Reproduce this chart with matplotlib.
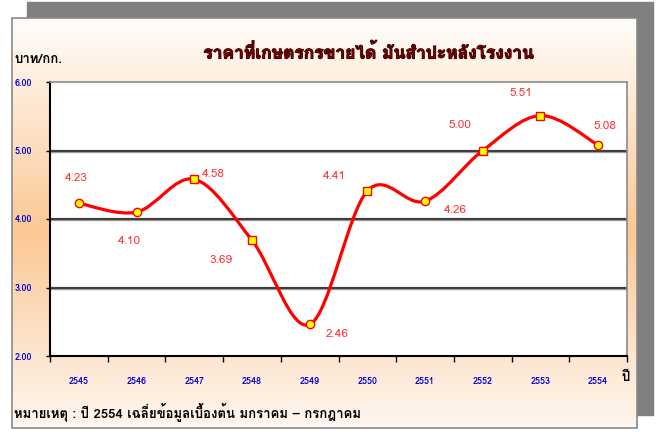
import numpy as np
import matplotlib
matplotlib.use("Agg")
import matplotlib.pyplot as plt
import matplotlib.patheffects as pe
from matplotlib.path import Path
from matplotlib.patches import PathPatch, Rectangle
from matplotlib import font_manager
from matplotlib.ft2font import FT2Font
from matplotlib.colors import LinearSegmentedColormap

# -----------------------------
# Data
# -----------------------------
years = ["2545", "2546", "2547", "2548", "2549", "2550", "2551", "2552", "2553", "2554"]
prices = [4.23, 4.10, 4.58, 3.69, 2.46, 4.41, 4.26, 5.00, 5.51, 5.08]
markers = ["o", "o", "s", "s", "o", "s", "o", "s", "s", "o"]
# label offsets (points) from each marker
label_dx = [-2, -5, 14, -22, 20, -24, 22, -16, -14, 5]
label_dy = [18, -21, 4, -14, -7, 11, -6, 18, 16, 14]

title = "ราคาที่เกษตรกรขายได้ มันสำปะหลังโรงงาน"
unit = "บาท/กก."
xname = "ปี"
note = "หมายเหตุ : ปี 2554 เฉลี่ยข้อมูลเบื้องต้น มกราคม – กรกฎาคม"

# -----------------------------
# Font with Thai glyphs, if any
# -----------------------------
thai_family = None
for f in font_manager.fontManager.ttflist:
    try:
        if FT2Font(f.fname).get_char_index(ord("ก")):
            thai_family = f.name
            break
    except Exception:
        pass
fams = [thai_family, "DejaVu Sans"] if thai_family else ["DejaVu Sans"]
plt.rcParams["font.family"] = fams

W, H = 656, 432
fig = plt.figure(figsize=(W / 100, H / 100), dpi=100)

# -----------------------------
# Background panel with shadow
# -----------------------------
bg = fig.add_axes([0, 0, 1, 1])
bg.set_xlim(0, W)
bg.set_ylim(H, 0)
bg.axis("off")
bg.add_patch(Rectangle((27, 2), 626, 413, color="#808080", zorder=0))
cmap = LinearSegmentedColormap.from_list(
    "peach", [(0, "#fffdfb"), (0.52, "#fbc895"), (1, "#fff6f0")])
grad = np.linspace(0, 1, 200).reshape(-1, 1)
bg.imshow(grad, cmap=cmap, extent=(12, 637, 428, 18), aspect="auto", zorder=1)
bg.add_patch(Rectangle((12, 18), 625, 410, fill=False, ec="#8a8a8a", lw=1.2, zorder=2))

bg.text(14, 60, unit, fontsize=9.5, fontweight="bold", color="black", va="center", zorder=3)
bg.text(369, 52, title, fontsize=12.5, fontweight="bold", color="#7a0000",
        ha="center", va="center", zorder=3,
        path_effects=[pe.withStroke(linewidth=0.8, foreground="#1a0000")])
bg.text(621, 378, xname, fontsize=9.5, fontweight="bold", color="black", va="center", zorder=3)
bg.text(14, 412, note, fontsize=9.5, fontweight="bold", color="black", va="center", zorder=3)

# -----------------------------
# Plot area
# -----------------------------
ax = fig.add_axes([50 / W, 1 - 356 / H, (627 - 50) / W, (356 - 82) / H])
ax.set_facecolor("white")
x = np.arange(len(prices))
ax.set_xlim(-0.5, len(prices) - 0.5)
ax.set_ylim(2, 6)

ax.set_yticks([2, 3, 4, 5, 6])
ax.set_yticklabels([f"{v:.2f}" for v in [2, 3, 4, 5, 6]])
for v in [3, 4, 5]:
    ax.axhline(v, color="#9a9a9a", lw=2.4, zorder=1)
    ax.axhline(v, color="#222222", lw=1.1, zorder=1)

ax.set_xticks(np.arange(-0.5, len(prices)))
ax.set_xticklabels([])
ax.set_xticks(x, minor=True)
ax.set_xticklabels(years, minor=True)
ax.tick_params(axis="x", which="minor", length=0, pad=15, labelsize=6.5,
               labelcolor="#0000dd")
ax.tick_params(axis="x", which="major", length=4, width=1, direction="out")
ax.tick_params(axis="y", length=3, width=1, direction="out", pad=10,
               labelsize=6.5, labelcolor="#0000dd")
for lab in ax.get_xticklabels(minor=True) + ax.get_yticklabels():
    lab.set_fontweight("bold")

for side in ["left", "bottom"]:
    ax.spines[side].set_color("black")
    ax.spines[side].set_linewidth(1.5)
for side in ["top", "right"]:
    ax.spines[side].set_color("#8a8a8a")
    ax.spines[side].set_linewidth(1.2)

# smoothed line (Excel-style Bezier through the points)
pts = np.column_stack([x, prices]).astype(float)
verts = [tuple(pts[0])]
codes = [Path.MOVETO]
n = len(pts)
for i in range(n - 1):
    p0 = pts[max(i - 1, 0)]
    p1 = pts[i]
    p2 = pts[i + 1]
    p3 = pts[min(i + 2, n - 1)]
    c1 = p1 + (p2 - p0) / 6
    c2 = p2 - (p3 - p1) / 6
    verts += [tuple(c1), tuple(c2), tuple(p2)]
    codes += [Path.CURVE4] * 3
ax.add_patch(PathPatch(Path(verts, codes), fill=False, ec="#ff0000", lw=2.3,
                       capstyle="round", joinstyle="round", zorder=3))

for xi, yi, m, dx, dy in zip(x, prices, markers, label_dx, label_dy):
    ax.plot(xi, yi, marker=m, ms=6, mfc="#ffff00", mec="#ff0000", mew=1.0, zorder=4)
    ax.annotate(f"{yi:.2f}", (xi, yi), xytext=(dx, dy), textcoords="offset points",
                ha="center", va="center", fontsize=8.5, color="#ff3030", zorder=5)

fig.savefig("out.png", dpi=100)
